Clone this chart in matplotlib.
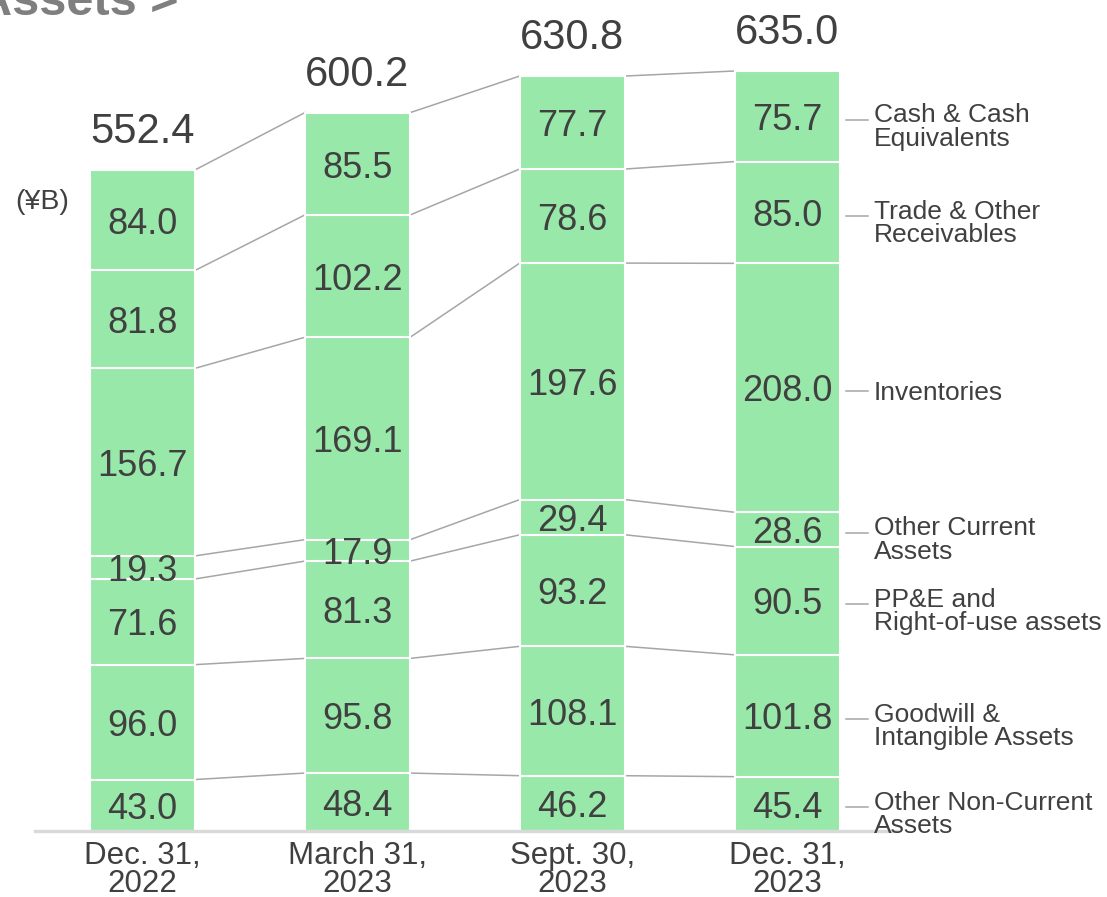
import numpy as np
import matplotlib.pyplot as plt

plt.rcParams['font.family'] = ['Liberation Sans', 'DejaVu Sans']

# Data (¥B), stacked bottom to top
periods = ["Dec. 31,\n2022", "March 31,\n2023", "Sept. 30,\n2023", "Dec. 31,\n2023"]
categories = ["Other Non-Current\nAssets", "Goodwill &\nIntangible Assets",
              "PP&E and\nRight-of-use assets", "Other Current\nAssets",
              "Inventories", "Trade & Other\nReceivables", "Cash & Cash\nEquivalents"]
other_noncurrent = [43.0, 48.4, 46.2, 45.4]
goodwill = [96.0, 95.8, 108.1, 101.8]
ppe = [71.6, 81.3, 93.2, 90.5]
other_current = [19.3, 17.9, 29.4, 28.6]
inventories = [156.7, 169.1, 197.6, 208.0]
receivables = [81.8, 102.2, 78.6, 85.0]
cash = [84.0, 85.5, 77.7, 75.7]
totals = [552.4, 600.2, 630.8, 635.0]

series = [other_noncurrent, goodwill, ppe, other_current, inventories, receivables, cash]

bar_color = '#98E8AA'
text_color = '#404040'
line_color = '#A6A6A6'

W, H = 1107, 897
fig = plt.figure(figsize=(W / 100, H / 100), dpi=100)
# axes placed in pixel terms: left 35px, right 897px, bottom 831px, top 0px
ax = fig.add_axes([35 / W, (H - 831) / H, (897 - 35) / W, 831 / H])
px_per_unit = 760 / 635.0
ax.set_xlim(-0.5, 3.51)
ax.set_ylim(0, 831 / px_per_unit)

x = np.arange(len(periods))
width = 0.49
bottom = np.zeros(len(periods))
cum = []
for vals in series:
    vals = np.array(vals)
    ax.bar(x, vals, width, bottom=bottom, color=bar_color, edgecolor='white', linewidth=1.5, zorder=2)
    for i in range(len(x)):
        ax.text(x[i], bottom[i] + vals[i] / 2 - 3.5, f"{vals[i]:.1f}", ha='center', va='center',
                fontsize=26, color=text_color, zorder=4)
    bottom = bottom + vals
    cum.append(bottom.copy())

# connector lines between bars
for c in cum:
    for i in range(len(x) - 1):
        ax.plot([x[i] + width / 2, x[i + 1] - width / 2], [c[i], c[i + 1]],
                color=line_color, linewidth=1.1, zorder=1)

# totals on top
for i in range(len(x)):
    ax.text(x[i], totals[i] + 22.5, f"{totals[i]:.1f}", ha='center', va='baseline',
            fontsize=30, color=text_color)

# category labels on the right of the last bar
last = len(x) - 1
prev = 0
for name, c in zip(categories, cum):
    mid = (prev + c[last]) / 2 - 3
    prev = c[last]
    ax.plot([3.272, 3.374], [mid, mid], color=line_color, linewidth=1.1, clip_on=False)
    shift = 6 if "\n" in name else 1
    ax.text(3.402, mid - shift, name, ha='left', va='center', fontsize=19, color=text_color,
            linespacing=0.97, clip_on=False)

# period labels
for i in range(len(x)):
    ax.text(x[i], -8, periods[i], ha='center', va='top', fontsize=22.5, color=text_color,
            linespacing=0.93)

ax.set_xticks([])
ax.set_yticks([])
for s in ['top', 'right', 'left']:
    ax.spines[s].set_visible(False)
ax.spines['bottom'].set_color('#D9D9D9')
ax.spines['bottom'].set_linewidth(2.4)
ax.patch.set_alpha(0)

fig.text(15 / W, 1 - 202 / H, "(¥B)", ha='left', va='center', fontsize=20.5, color=text_color)
fig.text(-23 / W, 1 - 15 / H, "Assets >", ha='left', va='baseline', fontsize=35,
         fontweight='bold', color='#7F7F7F')

fig.savefig('out.png', dpi=100)
